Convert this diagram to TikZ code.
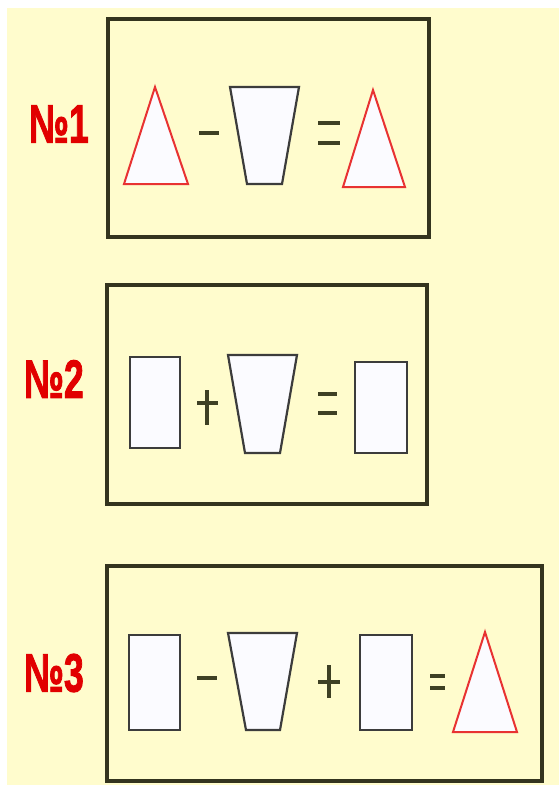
\documentclass[tikz,border=0pt]{standalone}
\usepackage{fontspec}
\setmainfont{Liberation Sans}
\newfontfamily\lblfont[FakeBold=2]{Liberation Sans Bold}
\definecolor{bgyellow}{RGB}{255,252,205}
\definecolor{boxcol}{RGB}{52,52,30}
\definecolor{shapecol}{RGB}{60,60,60}
\definecolor{shapefill}{RGB}{251,251,255}
\definecolor{trired}{RGB}{232,50,50}
\definecolor{opcol}{RGB}{62,64,36}
\definecolor{labred}{RGB}{225,0,0}
\begin{document}
\begin{tikzpicture}[x=1pt,y=-1pt,
  framebox/.style={draw=boxcol, line width=3.2pt},
  quad/.style={draw=shapecol, fill=shapefill, line width=2.2pt, line join=miter},
  tri/.style={draw=trired, fill=shapefill, line width=2pt, line join=miter},
  opline/.style={draw=opcol, line width=3.6pt},
  lbl/.style={text=labred, font=\fontsize{54}{54}\lblfont, xscale=0.66, inner sep=0pt, anchor=center}]
\useasboundingbox (0,0) rectangle (559,785);
\fill[white] (0,0) rectangle (559,785);
\fill[bgyellow] (7,8) rectangle (559,785);

% frames
\draw[framebox] (108,19) rectangle (429,237);
\draw[framebox] (107,285) rectangle (427,504);
\draw[framebox] (107,566) rectangle (542,781);

% labels
\node[lbl] (l1) at (59,124) {№1};
\node[lbl] (l2) at (54,379) {№2};
\node[lbl] (l3) at (54,673) {№3};

% row 1
\draw[tri] (155,87) -- (188,184) -- (124,184) -- cycle;
\draw[opline] (199,133) -- (219,133);
\draw[quad] (230,87) -- (299,87) -- (282,184) -- (247,184) -- cycle;
\draw[opline] (318,123) -- (340,123);
\draw[opline] (318,143) -- (340,143);
\draw[tri] (373,90) -- (405,187) -- (343,187) -- cycle;

% row 2
\draw[quad] (130,357) rectangle (180,448);
\draw[opline] (197,403) -- (218,403);
\draw[opline] (207,390) -- (207,425);
\draw[quad] (228,355) -- (297,355) -- (280,453) -- (245,453) -- cycle;
\draw[opline] (318,394) -- (337,394);
\draw[opline] (318,413) -- (337,413);
\draw[quad] (355,362) rectangle (407,453);

% row 3
\draw[quad] (129,635) rectangle (180,730);
\draw[opline] (197,678) -- (217,678);
\draw[quad] (228,633) -- (297,633) -- (280,730) -- (246,730) -- cycle;
\draw[opline] (318,682) -- (340,682);
\draw[opline] (329,665) -- (329,698);
\draw[quad] (360,635) rectangle (412,730);
\draw[opline] (430,676) -- (445,676);
\draw[opline] (430,688) -- (445,688);
\draw[tri] (485,632) -- (517,732) -- (453,732) -- cycle;
\end{tikzpicture}
\end{document}
